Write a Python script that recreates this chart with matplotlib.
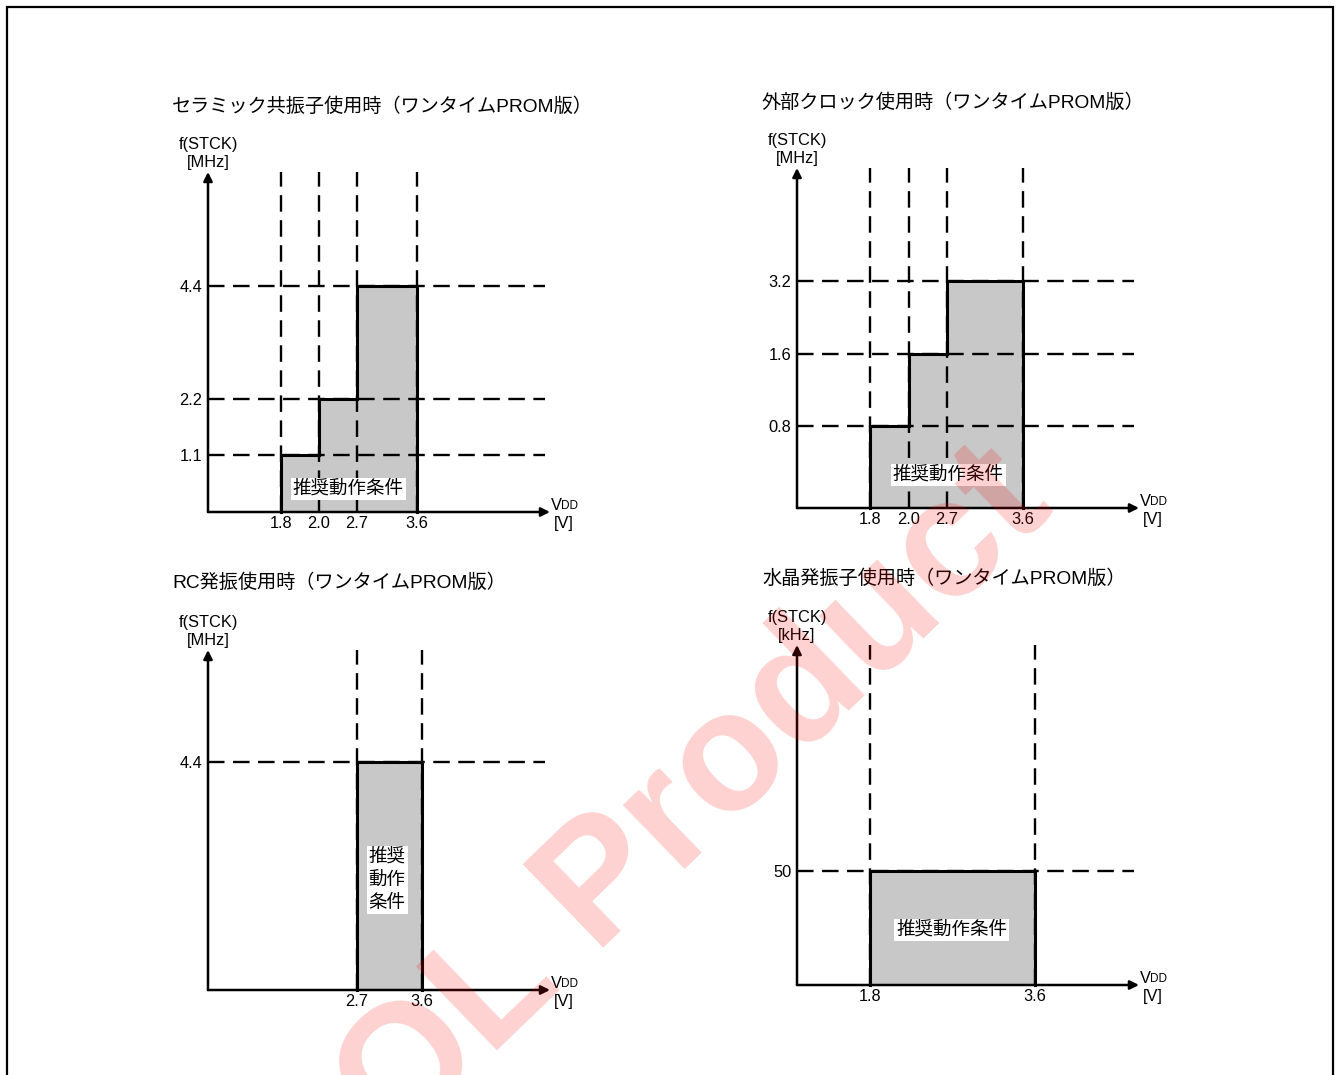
import matplotlib
matplotlib.use('Agg')
import matplotlib.pyplot as plt
import numpy as np
from matplotlib.patches import Rectangle

plt.rcParams['font.family'] = ['Liberation Sans', 'Noto Sans CJK JP', 'DejaVu Sans']

W, H = 1338, 1075

# ---- data ----
ceramic_title = 'セラミック共振子使用時（ワンタイムPROM版）'
ceramic_volts = [1.8, 2.0, 2.7, 3.6]
ceramic_freq = [1.1, 2.2, 4.4]

ext_title = '外部クロック使用時（ワンタイムPROM版）'
ext_volts = [1.8, 2.0, 2.7, 3.6]
ext_freq = [0.8, 1.6, 3.2]

rc_title = 'RC発振使用時（ワンタイムPROM版）'
rc_volts = [2.7, 3.6]
rc_freq = [4.4]

xtal_title = '水晶発振子使用時（ワンタイムPROM版）'
xtal_volts = [1.8, 3.6]
xtal_freq = [50]

box_label = '推奨動作条件'
box_label_vertical = '推奨\n動作\n条件'
watermark = 'OL Product'

# ---- layout (pixels) ----
PLOT_W, PLOT_H = 345, 340
GRAY = '#c8c8c8'
LW_AXIS = 1.8
LW_STEP = 2.2
LW_DASH = 1.7
DASHES = (7, 3.6)
FS_TITLE = 13.8
FS_BOX = 13.3
FS_SMALL = 11.8


def px_fig(x, y):
    return x / W, 1 - y / H


def make_axes(fig, ox, oy):
    left, bottom = px_fig(ox, oy)
    ax = fig.add_axes([left, bottom, PLOT_W / W, PLOT_H / H])
    ax.set_xlim(0, PLOT_W)
    for s in ax.spines.values():
        s.set_visible(False)
    ax.patch.set_alpha(0)
    ax.tick_params(length=0, labelsize=FS_SMALL, colors='black')
    return ax


def draw_panel(fig, ax, volts, xslots, freq, unit, title, title_xy, label_xy,
               label_text):
    ymin, ymax = ax.get_ylim()
    xs = np.asarray(xslots, dtype=float)

    # dashed guides
    for x in xs:
        ax.plot([x, x], [ymin, ymax], color='black', lw=LW_DASH,
                dashes=DASHES, zorder=2, clip_on=False)
    for f in freq:
        ax.plot([0, 337], [f, f], color='black', lw=LW_DASH,
                dashes=DASHES, zorder=2, clip_on=False)

    # filled step region
    step_x = np.repeat(xs, 2)[1:-1]
    step_y = np.repeat(freq, 2)
    ax.fill_between(step_x, ymin, step_y, color=GRAY, lw=0, zorder=1)
    outline_x = np.concatenate([[xs[0]], step_x, [xs[-1]]])
    outline_y = np.concatenate([[ymin], step_y, [ymin]])
    ax.plot(outline_x, outline_y, color='black', lw=LW_STEP, zorder=3,
            solid_joinstyle='miter', clip_on=False)

    # axes with arrows
    arrow = dict(arrowstyle='-|>', lw=LW_AXIS, color='black',
                 mutation_scale=13, shrinkA=0, shrinkB=0)
    ax.annotate('', xy=(342, ymin), xytext=(0, ymin), arrowprops=arrow,
                annotation_clip=False, zorder=4)
    ax.annotate('', xy=(0, ymax), xytext=(0, ymin), arrowprops=arrow,
                annotation_clip=False, zorder=4)

    ax.set_xticks(xs, [f'{v:.1f}' for v in volts])
    ax.tick_params(axis='x', pad=3)
    ax.set_yticks(freq, [f'{f:g}' for f in freq])
    ax.tick_params(axis='y', pad=4)

    # VDD label
    ax.annotate('V', xy=(342, ymin), xytext=(1, -1), textcoords='offset pixels',
                ha='left', va='bottom', fontsize=FS_SMALL, annotation_clip=False)
    ax.annotate('DD', xy=(342, ymin), xytext=(11, 0), textcoords='offset pixels',
                ha='left', va='bottom', fontsize=8.5, annotation_clip=False)
    ax.annotate('[V]', xy=(342, ymin), xytext=(14, -4), textcoords='offset pixels',
                ha='center', va='top', fontsize=FS_SMALL, annotation_clip=False)

    # y label
    ax.annotate(f'f(STCK)\n[{unit}]', xy=(0, ymax), xytext=(0, 2),
                textcoords='offset pixels', ha='center', va='bottom',
                fontsize=FS_SMALL, linespacing=1.25, annotation_clip=False)

    fig.text(*px_fig(*title_xy), title, ha='left', va='center', fontsize=FS_TITLE)

    ax.text(label_xy[0], label_xy[1], label_text, transform=ax.transAxes,
            ha='center', va='center', fontsize=FS_BOX, linespacing=1.44,
            zorder=5, bbox=dict(facecolor='white', edgecolor='none', pad=1.5))


fig = plt.figure(figsize=(W / 100, H / 100), dpi=100)
fig.patch.set_facecolor('white')

# ceramic
ax1 = make_axes(fig, 208, 512)
ax1.set_ylim(0, PLOT_H / 51.4)
draw_panel(fig, ax1, ceramic_volts, [73, 111, 149, 209], ceramic_freq, 'MHz',
           ceramic_title, (172, 107), (0.406, 0.068), box_label)

# external clock (log2 spacing)
ax2 = make_axes(fig, 797, 508)
ax2.set_yscale('log', base=2)
ax2.set_ylim(0.8 / 2 ** (82 / 72.5), 0.8 * 2 ** ((PLOT_H - 82) / 72.5))
ax2.minorticks_off()
draw_panel(fig, ax2, ext_volts, [73, 112, 150, 226], ext_freq, 'MHz',
           ext_title, (762, 103), (0.438, 0.097), box_label)

# RC
ax3 = make_axes(fig, 208, 990)
ax3.set_ylim(0, PLOT_H / 51.8)
draw_panel(fig, ax3, rc_volts, [149, 214], rc_freq, 'MHz',
           rc_title, (172, 583), (0.519, 0.324), box_label_vertical)

# crystal
ax4 = make_axes(fig, 797, 985)
ax4.set_ylim(0, PLOT_H / 2.28)
draw_panel(fig, ax4, xtal_volts, [73, 238], xtal_freq, 'kHz',
           xtal_title, (762, 579), (0.449, 0.162), box_label)

# outer frame
fig.patches.append(Rectangle(px_fig(7, 1090), 1326 / W, 1083 / H,
                             transform=fig.transFigure, fill=False,
                             edgecolor='black', lw=1.6, zorder=0))

# watermark
fig.text(*px_fig(395, 1150), watermark, rotation=44, rotation_mode='anchor',
         ha='left', va='baseline', fontsize=122, fontweight='bold',
         family='Liberation Sans', color='red', alpha=0.18, zorder=10)

fig.savefig('out.png', dpi=100)
